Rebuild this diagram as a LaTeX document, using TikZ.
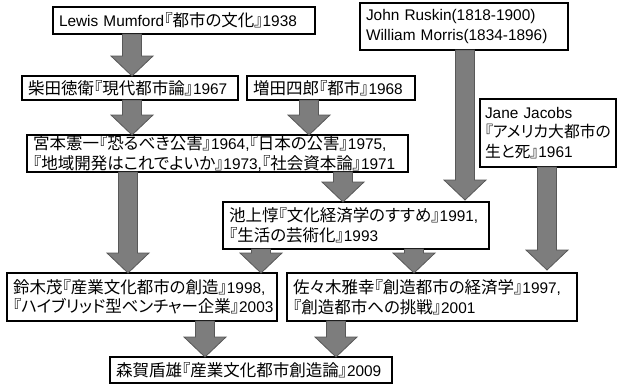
\documentclass[tikz,border=0pt]{standalone}
\usepackage{fontspec}
\setmainfont{Liberation Sans}
\newfontfamily\jpfont[RawFeature=+palt]{Noto Sans CJK JP}
\usetikzlibrary{calc}
\definecolor{arrowfill}{HTML}{7D7D7D}
\definecolor{arrowedge}{HTML}{585858}
\newcommand{\jp}[1]{{\jpfont\fontsize{16.5}{19.5}\selectfont #1}}
\newcommand{\jpsm}[1]{{\jpfont\fontsize{15.8}{19.5}\selectfont #1}}
\tikzset{
  box/.style={draw=black, line width=1.1pt, fill=white, anchor=north west,
    align=left, inner xsep=6pt, inner ysep=0pt, outer sep=0pt,
    font=\fontsize{15.4}{19.5}\selectfont},
  blockarrow/.style={draw=arrowedge, fill=arrowfill, line width=0.8pt,
    to path={let \p1=(\tikztostart), \p2=(\tikztotarget) in
      (\x1-9.5pt,\y1) -- (\x1-9.5pt,\y2+20pt) -- (\x1-21pt,\y2+20pt) -- (\x1,\y2)
      -- (\x1+21pt,\y2+20pt) -- (\x1+9.5pt,\y2+20pt) -- (\x1+9.5pt,\y1) -- cycle}}
}
\begin{document}
\begin{tikzpicture}[x=1pt,y=-1pt]
\useasboundingbox (0,0) rectangle (617,384);
% boxes
\node[box, text width=250pt, minimum height=27pt] (M) at (53,7)
  {Lewis Mumford\jp{『都市の文化』}1938};
\node[box, text width=204pt, minimum height=24pt] (S) at (22,76)
  {\jp{柴田徳衛『現代都市論』}1967};
\node[box, text width=156pt, minimum height=24pt] (Ma) at (247,76)
  {\jp{増田四郎『都市』}1968};
\node[box, text width=196pt, minimum height=47pt] (R) at (360,3)
  {John Ruskin(1818-1900)\\William Morris(1834-1896)};
\node[box, text width=126pt, minimum height=68pt, inner xsep=5pt] (J) at (480,99)
  {Jane Jacobs\\\jpsm{『アメリカ大都市の}\\\jpsm{生と死』}1961};
\node[box, text width=369pt, minimum height=37pt] (Mi) at (27,135)
  {\jp{宮本憲一『恐るべき公害』}1964,\jp{『日本の公害』}1975,\\\jp{『地域開発はこれでよいか』}1973,\jp{『社会資本論』}1971};
\node[box, text width=254pt, minimum height=47pt] (I) at (223,202)
  {\jp{池上惇『文化経済学のすすめ』}1991,\\\jp{『生活の芸術化』}1993};
\node[box, text width=258pt, minimum height=48pt] (Su) at (7,273)
  {\jp{鈴木茂『産業文化都市の創造』}1998,\\\jp{『ハイブリッド型ベンチャー企業』}2003};
\node[box, text width=278pt, minimum height=48pt] (Sa) at (287,273)
  {\jp{佐々木雅幸『創造都市の経済学』}1997,\\\jp{『創造都市への挑戦』}2001};
\node[box, text width=270pt, minimum height=26pt] (Mo) at (110,357)
  {\jp{森賀盾雄『産業文化都市創造論』}2009};
% arrows
\draw[blockarrow] ([xshift=79pt]M.south west) to (S.north);
\draw[blockarrow] ([xshift=110pt]S.south west) to (Mi.north);
\draw[blockarrow] ([xshift=62pt]Ma.south west) to (Mi.north);
\draw[blockarrow] ([xshift=316pt]Mi.south west) to (I.north);
\draw[blockarrow] ([xshift=101pt]Mi.south west) to (Su.north);
\draw[blockarrow] ([xshift=105pt]R.south west) to ([yshift=2pt]I.north);
\draw[blockarrow] ([xshift=67pt]J.south west) to ([yshift=3pt]Sa.north);
\draw[blockarrow] ([xshift=38pt]I.south west) to (Su.north);
\draw[blockarrow] ([xshift=191pt]I.south west) to (Sa.north);
\draw[blockarrow] ([xshift=198pt]Su.south west) to (Mo.north);
\draw[blockarrow] ([xshift=49pt]Sa.south west) to (Mo.north);
\end{tikzpicture}
\end{document}
